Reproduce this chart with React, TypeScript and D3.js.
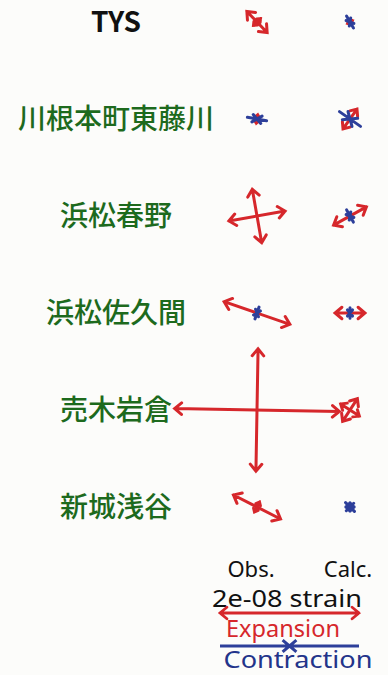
import React from 'react';
import * as d3 from 'd3';

// stations, top to bottom
const stations = ['TYS', '川根本町東藤川', '浜松春野', '浜松佐久間', '売木岩倉', '新城浅谷'];
const columns = ['Obs.', 'Calc.'];

// principal strains in units of 1e-08 (positive = expansion), azimuth of e1 in degrees from north
const obsE1 = [0.42, 0.12, 0.82, 1.0, 2.37, 0.76];
const obsE2 = [0.14, -0.28, 0.78, -0.18, 1.76, 0.16];
const obsAz = [136, 10, 80, 109, 91, 117];

const calcE1 = [0.08, 0.35, 0.54, 0.43, 0.39, -0.15];
const calcE2 = [-0.2, -0.37, -0.2, -0.15, 0.32, -0.18];
const calcAz = [60, 35, 61, 90, 33, 45];

const legendStrain = 2; // 2e-08

const RED = '#d6272b';
const BLUE = '#2d3f9a';
const GREEN = '#1d6a1d';

const W = 388;
const H = 675;

const y = d3.scalePoint<string>().domain(stations).range([22, 507]);
const x = d3.scalePoint<string>().domain(columns).range([257, 350]);
const len = d3.scaleLinear().domain([0, 2]).range([0, 69.5]);

// one axis of a strain cross as a path string
function axisPath(cx: number, cy: number, value: number, az: number) {
  const L = len(Math.abs(value));
  const a = (az * Math.PI) / 180;
  const ux = Math.sin(a);
  const uy = -Math.cos(a);
  const h = Math.min(9, Math.max(4, L * 0.6));
  const spread = (40 * Math.PI) / 180;
  const p = d3.path();
  p.moveTo(cx - L * ux, cy - L * uy);
  p.lineTo(cx + L * ux, cy + L * uy);
  const head = (tx: number, ty: number, dx: number, dy: number) => {
    // dx,dy = direction the head points to
    const back = Math.atan2(-dy, -dx);
    p.moveTo(tx + h * Math.cos(back + spread), ty + h * Math.sin(back + spread));
    p.lineTo(tx, ty);
    p.lineTo(tx + h * Math.cos(back - spread), ty + h * Math.sin(back - spread));
  };
  if (value >= 0) {
    head(cx + L * ux, cy + L * uy, ux, uy);
    head(cx - L * ux, cy - L * uy, -ux, -uy);
  } else {
    head(cx, cy, -ux, -uy);
    head(cx, cy, ux, uy);
  }
  return p.toString();
}

const Cross = ({ cx, cy, e1, e2, az }: { cx: number; cy: number; e1: number; e2: number; az: number }) => {
  const axes = [
    { v: e1, a: az },
    { v: e2, a: az + 90 },
  ].sort((p, q) => (p.v < 0 ? 1 : 0) - (q.v < 0 ? 1 : 0));
  return (
    <g>
      {axes.map((ax, i) => (
        <path
          key={i}
          d={axisPath(cx, cy, ax.v, ax.a)}
          fill="none"
          stroke={ax.v >= 0 ? RED : BLUE}
          strokeWidth={3}
          strokeLinejoin="miter"
          strokeLinecap="round"
        />
      ))}
    </g>
  );
};

export default function App() {
  const legendX = 289.5;
  return (
    <svg
      width={W}
      height={H}
      style={{ position: 'absolute', left: 0, top: 0, background: '#fcfcfa' }}
      fontFamily="'Noto Sans', sans-serif"
    >
      {stations.map((s, i) => (
        <text
          key={s}
          x={116}
          y={(y(s) ?? 0) + 10}
          textAnchor="middle"
          fontSize={28}
          fontWeight={i === 0 ? 700 : 500}
          fill={i === 0 ? '#111' : GREEN}
          fontFamily="'Noto Sans CJK JP', 'Noto Sans', sans-serif"
        >
          {s}
        </text>
      ))}

      {stations.map((s, i) => (
        <g key={s}>
          <Cross cx={x('Obs.') ?? 0} cy={y(s) ?? 0} e1={obsE1[i]} e2={obsE2[i]} az={obsAz[i]} />
          <Cross cx={x('Calc.') ?? 0} cy={y(s) ?? 0} e1={calcE1[i]} e2={calcE2[i]} az={calcAz[i]} />
        </g>
      ))}

      {/* legend */}
      <text x={251} y={577} textAnchor="middle" fontSize={22} fill="#111">Obs.</text>
      <text x={348} y={577} textAnchor="middle" fontSize={22} fill="#111">Calc.</text>
      <text x={287} y={607} textAnchor="middle" fontSize={23} fill="#111" textLength={150} lengthAdjust="spacingAndGlyphs">
        2e-08 strain
      </text>
      <path d={axisPath(legendX, 613, legendStrain, 90)} fill="none" stroke={RED} strokeWidth={2.8} strokeLinecap="round" />
      <text x={283} y={637} textAnchor="middle" fontSize={24} fill={RED} textLength={114} lengthAdjust="spacingAndGlyphs">
        Expansion
      </text>
      <path d={axisPath(legendX, 646, -legendStrain, 90)} fill="none" stroke={BLUE} strokeWidth={3} strokeLinecap="butt" />
      <text x={298} y={668} textAnchor="middle" fontSize={24} fill="#23348a" textLength={149} lengthAdjust="spacingAndGlyphs">
        Contraction
      </text>
    </svg>
  );
}
